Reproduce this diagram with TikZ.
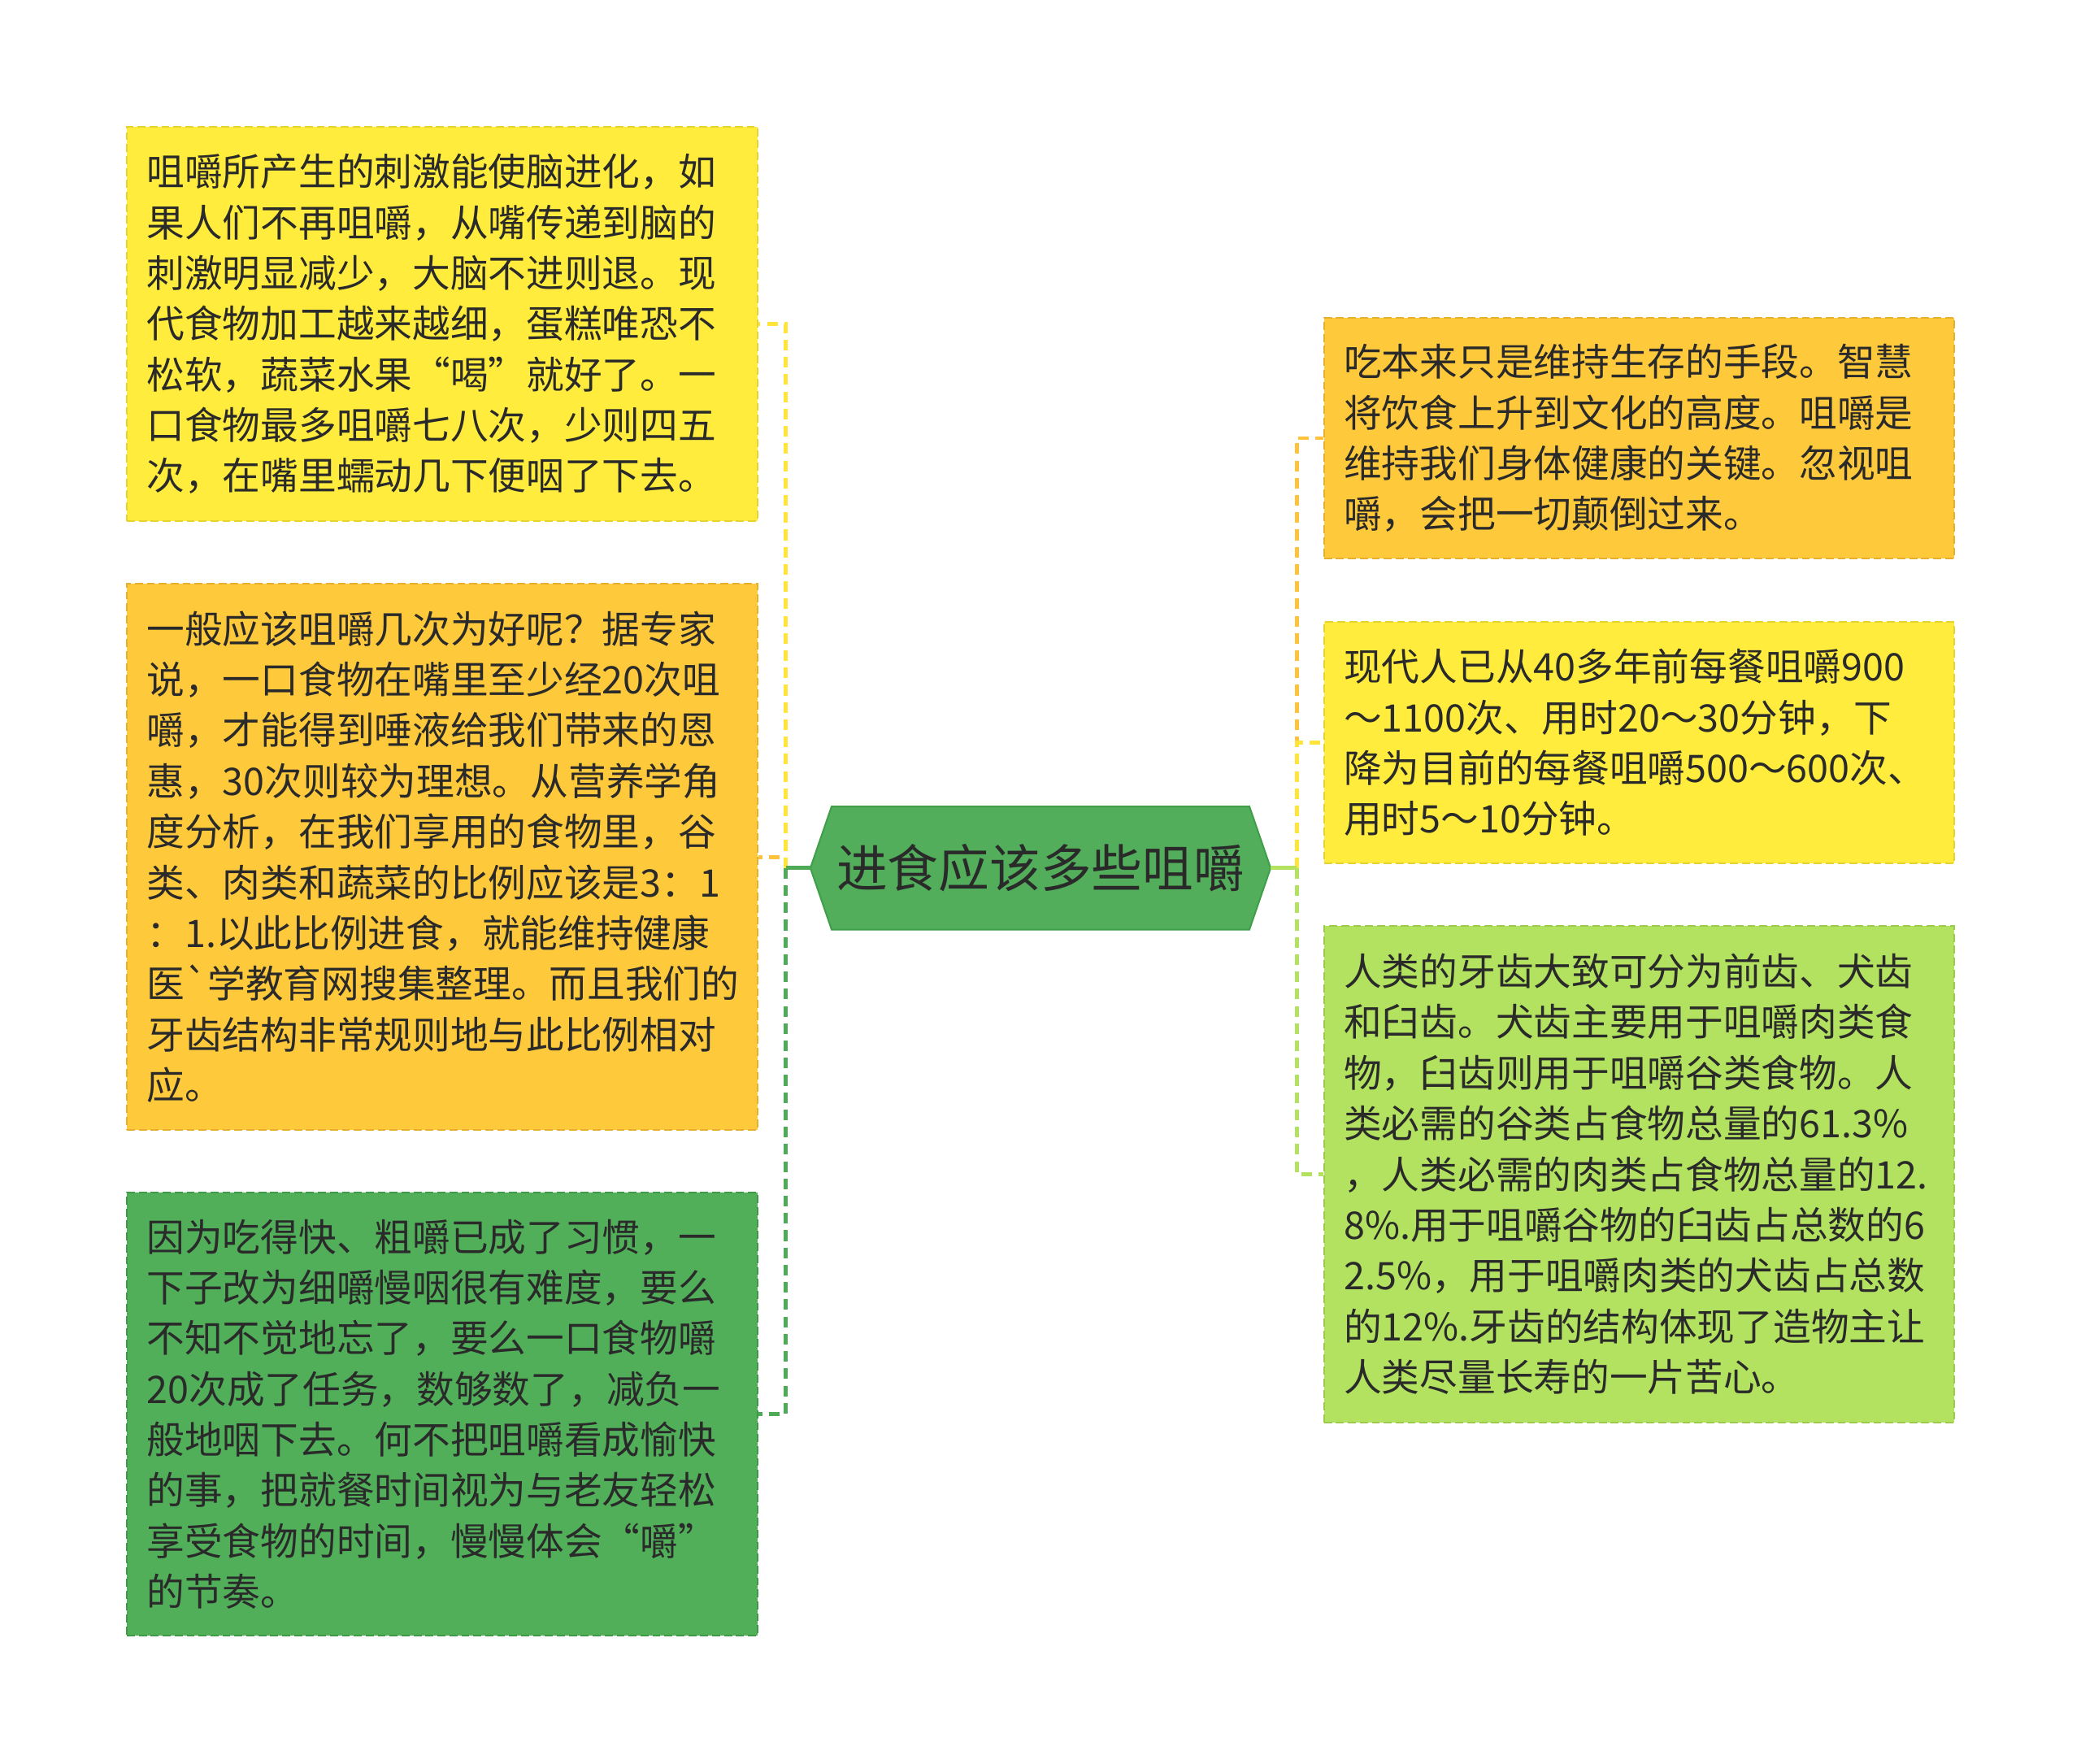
\documentclass[tikz,border=0pt]{standalone}
\usepackage{fontspec}
\newfontfamily\cjk{Noto Sans CJK SC}
\usetikzlibrary{calc,backgrounds}
\definecolor{txt}{HTML}{2A2A2A}
\definecolor{yfill}{HTML}{FFEC3D}
\definecolor{yborder}{HTML}{E6D230}
\definecolor{ofill}{HTML}{FFC93C}
\definecolor{oborder}{HTML}{E6AF2E}
\definecolor{gfill}{HTML}{51AF5A}
\definecolor{gborder}{HTML}{3F9A48}
\definecolor{lgfill}{HTML}{B2E25F}
\definecolor{lgborder}{HTML}{9CCB4C}
\definecolor{hexfill}{HTML}{52AE5B}
\definecolor{hexborder}{HTML}{3F9E48}
\definecolor{ycol}{HTML}{FFE43A}
\definecolor{ocol}{HTML}{FFC23C}
\definecolor{gcol}{HTML}{4FAA58}
\definecolor{lgcol}{HTML}{B2E25F}
\begin{document}
\begin{tikzpicture}[x=0.5pt,y=-0.5pt,
  box/.style={anchor=north west, text width=222.5pt, inner xsep=7.5pt, inner ysep=0pt,
    align=left, font=\cjk\fontsize{14.3pt}{19.1pt}\selectfont, text=txt,
    line width=0.6pt, dash pattern=on 3pt off 1.5pt},
  ybox/.style={box, fill=yfill, draw=yborder},
  obox/.style={box, fill=ofill, draw=oborder},
  gbox/.style={box, fill=gfill, draw=gborder},
  lgbox/.style={box, fill=lgfill, draw=lgborder},
  conn/.style={line width=1.5pt, dash pattern=on 4pt off 2.5pt},
  solidconn/.style={line width=1.5pt}]
\useasboundingbox (0,0) rectangle (1568,1329);

% root
\node (root) [minimum width=173pt, minimum height=46pt, inner sep=0pt, text=txt,
  font=\cjk\fontsize{19.2pt}{23pt}\selectfont] at (784,654) {进食应该多些咀嚼};
\begin{pgfonlayer}{background}
\fill[white] (0,0) rectangle (1568,1329);
\filldraw[fill=hexfill, draw=hexborder, line width=0.6pt]
  (root.west) -- ($(root.north west)+(16,0)$) -- ($(root.north east)+(-16,0)$)
  -- (root.east) -- ($(root.south east)+(-16,0)$) -- ($(root.south west)+(16,0)$) -- cycle;
\end{pgfonlayer}

% left boxes
\node (b1) [ybox, minimum height=148.5pt] at (95,95) {咀嚼所产生的刺激能使脑进化，如\\果人们不再咀嚼，从嘴传递到脑的\\刺激明显减少，大脑不进则退。现\\代食物加工越来越细，蛋糕唯恐不\\松软，蔬菜水果“喝”就好了。一\\口食物最多咀嚼七八次，少则四五\\次，在嘴里蠕动几下便咽了下去。};
\node (b2) [obox, minimum height=206pt] at (95,439) {一般应该咀嚼几次为好呢？据专家\\说，一口食物在嘴里至少经20次咀\\嚼，才能得到唾液给我们带来的恩\\惠，30次则较为理想。从营养学角\\度分析，在我们享用的食物里，谷\\类、肉类和蔬菜的比例应该是3：1\\：1.以此比例进食，就能维持健康\\医`学教育网搜集整理。而且我们的\\牙齿结构非常规则地与此比例相对\\应。};
\node (b3) [gbox, minimum height=167pt] at (95,898) {因为吃得快、粗嚼已成了习惯，一\\下子改为细嚼慢咽很有难度，要么\\不知不觉地忘了，要么一口食物嚼\\20次成了任务，数够数了，减负一\\般地咽下去。何不把咀嚼看成愉快\\的事，把就餐时间视为与老友轻松\\享受食物的时间，慢慢体会“嚼”\\的节奏。};

% right boxes
\node (r1) [obox, minimum height=90.5pt] at (997,239) {吃本来只是维持生存的手段。智慧\\将饮食上升到文化的高度。咀嚼是\\维持我们身体健康的关键。忽视咀\\嚼，会把一切颠倒过来。};
\node (r2) [ybox, minimum height=91pt] at (997,468) {现代人已从40多年前每餐咀嚼900\\～1100次、用时20～30分钟，下\\降为目前的每餐咀嚼500～600次、\\用时5～10分钟。};
\node (r3) [lgbox, minimum height=187pt] at (997,697) {人类的牙齿大致可分为前齿、犬齿\\和臼齿。犬齿主要用于咀嚼肉类食\\物，臼齿则用于咀嚼谷类食物。人\\类必需的谷类占食物总量的61.3\%\\，人类必需的肉类占食物总量的12.\\8\%.用于咀嚼谷物的臼齿占总数的6\\2.5\%，用于咀嚼肉类的犬齿占总数\\的12\%.牙齿的结构体现了造物主让\\人类尽量长寿的一片苦心。};

% junctions
\coordinate (lj) at (592,654);
\coordinate (rj) at (977,654);

% left connectors
\draw[conn, gcol] (lj) |- (b3.east);
\draw[conn, ocol] (lj) |- (b2.east);
\draw[conn, ycol] (lj) |- (b1.east);
\draw[solidconn, gcol] (root.west) -- (lj);

% right connectors
\draw[conn, ocol] (rj) |- (r1.west);
\draw[conn, ycol] (rj) |- (r2.west);
\draw[conn, lgcol] (rj) |- (r3.west);
\draw[solidconn, lgcol] (root.east) -- (rj);
\end{tikzpicture}
\end{document}
